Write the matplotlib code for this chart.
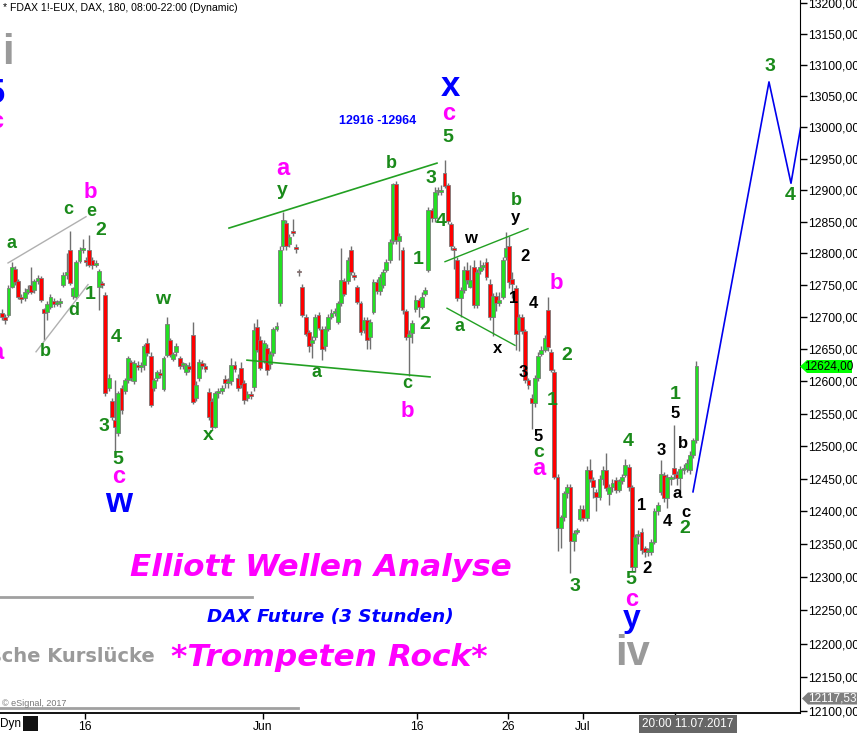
import matplotlib
matplotlib.use("Agg")
import matplotlib.pyplot as plt
from matplotlib.ticker import FixedLocator, NullLocator, FuncFormatter
from matplotlib.patches import Polygon, Rectangle
from matplotlib.lines import Line2D

plt.rcParams['font.family'] = ['Liberation Sans', 'DejaVu Sans']

BASE = 12000
# OHLC of 3-hour bars (offsets from BASE)
opens = [707,700,703,748,776,756,732,730,740,751,742,756,762,712,708,716,725,721,722,
         751,766,805,733,732,788,805,790,806,790,782,748,752,735,590,570,540,521,590,585,
         602,630,600,625,622,626,660,640,590,605,612,588,641,665,635,645,636,625,614,624,
         672,575,605,628,624,584,570,530,582,585,603,597,600,626,606,621,598,575,580,591,
         685,664,633,652,627,644,682,722,811,848,815,836,810,773,747,700,677,660,669,703,
         682,655,682,700,707,693,722,756,756,805,765,747,722,680,696,669,708,755,741,750,
         774,790,819,910,820,805,709,669,676,712,727,716,737,774,869,856,898,897,928,908,
         847,809,790,730,743,774,748,779,719,772,779,787,752,701,733,722,732,795,811,760,
         745,680,700,678,602,574,566,606,643,649,711,645,615,453,375,391,428,438,355,369,
         389,403,390,464,448,430,422,450,464,426,437,448,433,446,456,468,437,315,362,369,
         344,338,338,353,400,430,456,420,449,466,458,451,464,465,463,486,509]
highs = [712,705,750,786,780,760,737,745,750,778,760,766,765,714,725,736,730,727,730,
         770,800,836,748,790,810,822,795,829,795,790,775,756,740,612,575,602,585,595,606,
         640,634,634,632,630,658,668,645,606,618,620,640,700,668,645,660,640,630,628,630,
         693,600,635,634,628,590,575,585,590,595,610,605,636,632,612,630,602,585,585,691,
         697,670,665,658,648,685,692,812,865,853,830,854,815,776,752,705,680,670,705,708,
         686,686,705,712,715,726,809,762,795,812,770,750,726,700,700,697,760,760,768,776,
         792,822,912,915,832,810,712,680,695,735,730,740,748,873,872,905,905,908,948,912,
         850,812,795,748,780,786,782,790,776,790,786,793,760,738,740,740,795,834,828,770,
         750,705,705,682,606,580,610,645,655,672,731,650,620,458,395,432,442,442,372,375,
         410,410,470,480,452,435,455,470,490,442,450,452,450,458,480,472,440,365,372,375,
         348,345,358,405,415,478,460,458,455,532,462,470,472,480,492,512,632]
lows = [695,690,700,745,750,728,722,726,736,736,738,752,724,665,696,712,716,717,716,
        748,760,750,728,728,785,800,780,778,776,778,711,745,578,585,540,487,515,550,580,
        598,600,596,618,615,618,640,560,585,600,605,585,638,638,632,640,620,620,610,615,
        565,570,600,620,615,540,525,528,575,580,590,590,595,615,585,590,565,570,572,585,
        645,618,628,610,620,640,678,718,805,805,810,828,800,765,700,670,646,636,665,680,
        633,648,678,697,702,690,718,733,752,766,758,720,672,676,651,650,705,737,735,745,
        770,785,815,815,790,705,665,609,660,708,700,712,733,770,850,850,893,893,903,847,
        805,775,725,700,738,752,745,714,715,768,774,758,695,670,710,718,728,790,745,730,
        649,648,674,598,588,527,560,600,640,645,648,614,450,340,345,385,420,307,340,365,
        385,385,385,445,420,400,418,440,432,410,430,428,430,442,452,432,310,308,350,335,
        330,332,333,350,395,425,415,405,440,450,440,430,458,460,458,482,505]
closes = [700,695,745,778,755,732,728,740,744,740,756,762,727,706,720,732,720,723,725,
          766,770,753,745,787,805,808,786,782,781,784,772,750,582,605,545,530,582,556,602,
          636,605,629,622,626,655,644,563,602,614,610,636,690,641,643,655,624,626,625,620,
          568,595,630,624,620,545,530,582,585,590,597,600,626,620,590,594,571,580,578,680,
          649,621,660,618,643,682,686,805,852,811,826,832,807,770,703,674,655,664,700,683,
          651,682,700,707,708,722,758,737,790,771,763,724,677,696,664,693,755,741,763,771,
          787,818,910,821,827,711,669,674,691,727,716,732,743,869,856,897,900,901,907,851,
          811,806,730,743,774,758,758,719,771,779,780,763,700,733,722,727,790,809,755,752,
          674,700,678,602,594,566,606,640,649,667,653,618,453,375,391,428,438,355,367,371,
          403,390,464,450,437,422,450,464,436,437,443,433,446,453,471,437,315,361,365,341,
          338,340,353,400,410,458,420,453,450,458,451,465,466,474,486,509,624]

LAST_PRICE = 12624.00
LOW_MARK = 12117.53
price_ticks = list(range(12100, 13201, 50))
date_tick_pos = [25.70, 80.80, 128.48, 156.66, 179.88]
date_tick_labels = ['16', 'Jun', '16', '26', 'Jul']
cursor_pos = 208.36
cursor_label = '20:00 11.07.2017'

GREEN = '#1a8a1a'
PINK = '#ff00ff'
BLUE = '#0000ff'
GRAY = '#9a9a9a'
BLACK = '#000000'

# wave labels: (bar index, price, text, color, fontsize)
labels = [
    (1.86, 13119, 'i', GRAY, 30), (195.05, 12184, 'iv', GRAY, 30),
    (-1.86, 13054, '5', BLUE, 25), (138.70, 13065, 'x', BLUE, 25),
    (36.22, 12414, 'w', BLUE, 25), (195.05, 12237, 'y', BLUE, 23),
    (-1.6, 13009, 'c', PINK, 17), (27.24, 12897, 'b', PINK, 16), (-1.6, 12645, 'a', PINK, 17),
    (36.22, 12453, 'c', PINK, 17), (87.00, 12935, 'a', PINK, 17), (125.39, 12554, 'b', PINK, 16),
    (138.39, 13023, 'c', PINK, 17), (171.52, 12752, 'b', PINK, 16), (166.25, 12465, 'a', PINK, 17),
    (195.05, 12266, 'c', PINK, 17),
    (2.79, 12815, 'a', GREEN, 13), (20.43, 12869, 'c', GREEN, 13), (27.55, 12866, 'e', GREEN, 13),
    (30.65, 12836, '2', GREEN, 14), (27.24, 12735, '1', GREEN, 14), (22.29, 12711, 'd', GREEN, 13),
    (13.31, 12646, 'b', GREEN, 13), (35.29, 12669, '4', GREEN, 14), (31.58, 12530, '3', GREEN, 14),
    (35.91, 12479, '5', GREEN, 14), (49.85, 12727, 'w', GREEN, 14), (63.78, 12517, 'x', GREEN, 14),
    (86.69, 12900, 'y', GREEN, 14), (120.43, 12943, 'b', GREEN, 13), (97.52, 12614, 'a', GREEN, 13),
    (125.39, 12596, 'c', GREEN, 13), (128.79, 12791, '1', GREEN, 14), (130.96, 12688, '2', GREEN, 14),
    (132.82, 12918, '3', GREEN, 14), (135.91, 12850, '4', GREEN, 14), (138.08, 12984, '5', GREEN, 14),
    (159.13, 12884, 'b', GREEN, 13), (141.49, 12686, 'a', GREEN, 13), (174.92, 12641, '2', GREEN, 14),
    (170.28, 12570, '1', GREEN, 14), (166.25, 12490, 'c', GREEN, 14), (177.40, 12286, '3', GREEN, 14),
    (193.81, 12507, '4', GREEN, 14), (194.74, 12296, '5', GREEN, 14), (208.36, 12580, '1', GREEN, 14),
    (211.46, 12374, '2', GREEN, 14), (237.77, 13097, '3', GREEN, 14), (243.96, 12891, '4', GREEN, 14),
    (158.82, 12856, 'y', BLACK, 12), (144.89, 12824, 'w', BLACK, 12), (161.92, 12795, '2', BLACK, 12),
    (158.51, 12729, '1', BLACK, 12), (164.40, 12722, '4', BLACK, 12), (153.56, 12651, 'x', BLACK, 12),
    (161.30, 12614, '3', BLACK, 12), (165.94, 12515, '5', BLACK, 12), (198.14, 12409, '1', BLACK, 12),
    (199.69, 12314, '2', BLACK, 12), (204.02, 12494, '3', BLACK, 12), (205.88, 12384, '4', BLACK, 12),
    (208.36, 12550, '5', BLACK, 12), (210.84, 12504, 'b', BLACK, 12), (208.98, 12428, 'a', BLACK, 12),
    (211.76, 12399, 'c', BLACK, 12),
]

# helper lines: (x list, price list, color, width)
trend_lines = [
    ([1.86, 26.01], [12785, 12858], '#b0b0b0', 1.0),
    ([10.53, 26.63], [12646, 12751], '#b0b0b0', 1.0),
    ([70.28, 134.67], [12840, 12943], '#22a022', 1.2),
    ([75.85, 132.51], [12633, 12607], '#22a022', 1.2),
    ([137.15, 162.85], [12787, 12839], '#22a022', 1.0),
    ([137.77, 158.82], [12714, 12656], '#22a022', 1.0),
]
proj_x = [213.93, 237.46, 244.27, 247.5]
proj_p = [12430, 13073, 12911, 13007]

W, H = 857, 733
fig = plt.figure(figsize=(W / 100, H / 100), dpi=100)
ax = fig.add_axes([0, 20 / H, 800 / W, 713 / H])
ax.set_yscale('log')
ax.set_xlim(-0.62, 247.06)
ax.set_ylim(12096.3, 13205.4)

n = len(closes)
for i in range(n):
    o = BASE + opens[i]; c = BASE + closes[i]
    hi = BASE + highs[i]; lo = BASE + lows[i]
    ax.vlines(i, lo, hi, color='#707070', lw=1.0, zorder=2)
    bot = min(o, c); top = max(o, c)
    if top - bot < 3:
        top = bot + 3
    col = '#22e022' if c >= o else '#ff0000'
    ax.add_patch(Rectangle((i - 0.6, bot), 1.2, top - bot, facecolor=col,
                           edgecolor='#7a7a7a', lw=0.6, zorder=3))

for xs, ps, col, lw in trend_lines:
    ax.plot(xs, ps, color=col, lw=lw, zorder=4)
ax.plot(proj_x, proj_p, color='#0000ee', lw=1.2, zorder=4, clip_on=True)

for xi, pr, s, col, fs in labels:
    ax.text(xi, pr, s, color=col, fontsize=fs, fontweight='bold',
            ha='center', va='center', zorder=6)

ax.text(116.41, 13011, '12916 -12964', color=BLUE, fontsize=9, fontweight='bold',
        ha='center', va='center')

# axes styling
for side in ['left', 'top']:
    ax.spines[side].set_visible(False)
ax.spines['right'].set_color('black')
ax.spines['bottom'].set_color('black')
ax.spines['bottom'].set_linewidth(1.3)
ax.yaxis.tick_right()
ax.yaxis.set_major_locator(FixedLocator(price_ticks))
ax.yaxis.set_minor_locator(NullLocator())
ax.yaxis.set_major_formatter(FuncFormatter(lambda v, p: f"{v:.2f}".replace('.', ',')))
ax.tick_params(axis='y', which='major', direction='out', length=5, width=1, pad=1,
               labelsize=8.7, colors='black')
ax.tick_params(axis='y', which='minor', length=0)
ax.set_xticks(date_tick_pos + [cursor_pos])
ax.set_xticklabels(date_tick_labels + [''])
ax.tick_params(axis='x', direction='out', length=4, width=1, pad=2, labelsize=8.7)

def fx(px):
    return px / W

def fy(py):
    return 1 - py / H

CAP = ['DejaVu Sans']

# title
fig.text(fx(3), fy(8), '* FDAX 1!-EUX, DAX, 180, 08:00-22:00 (Dynamic)', fontsize=7.6,
         ha='left', va='center', color='black')

# big captions
fig.text(fx(321), fy(567), 'Elliott Wellen Analyse', color=PINK, fontsize=22.4, family=CAP,
         fontweight='bold', fontstyle='italic', ha='center', va='center')
fig.text(fx(330), fy(617), 'DAX Future (3 Stunden)', color=BLUE, fontsize=13.2, family=CAP,
         fontweight='bold', fontstyle='italic', ha='center', va='center')
fig.text(fx(329), fy(658), '*Trompeten Rock*', color=PINK, fontsize=22.5, family=CAP,
         fontweight='bold', fontstyle='italic', ha='center', va='center')
fig.text(fx(155), fy(657), 'Charttechnische Kurslücke', color='#9a9a9a', fontsize=14,
         family=CAP, fontweight='bold', ha='right', va='center')
fig.add_artist(Line2D([0, fx(252)], [fy(597), fy(597)], color='#a0a0a0', lw=2))
fig.add_artist(Line2D([0, fx(298)], [fy(708), fy(708)], color='#a0a0a0', lw=2))
fig.text(fx(2), fy(703), '© eSignal, 2017', color='#777777', fontsize=6.5,
         ha='left', va='center')

# bottom left
fig.text(fx(0), fy(724), 'Dyn', fontsize=8.5, ha='left', va='center', color='black')
fig.add_artist(Rectangle((fx(23), fy(731)), fx(15), 15 / H, facecolor='#111111',
                         edgecolor='none', transform=fig.transFigure))

# cursor date box
fig.text(fx(688), fy(724), cursor_label, fontsize=8.5, color='white', ha='center',
         va='center', bbox=dict(boxstyle='square,pad=0.25', facecolor='#666666',
                                edgecolor='none'))

# last price box
yp = 366.5
fig.add_artist(Polygon([(fx(800), fy(yp)), (fx(807), fy(yp - 6.5)), (fx(852), fy(yp - 6.5)),
                        (fx(852), fy(yp + 6.5)), (fx(807), fy(yp + 6.5))], closed=True,
                       facecolor='#00ff00', edgecolor='none', transform=fig.transFigure))
fig.text(fx(829), fy(yp), f"{LAST_PRICE:.2f}".replace('.', ','), fontsize=8.5,
         ha='center', va='center', color='black')
yl = 698.5
fig.add_artist(Polygon([(fx(802), fy(yl)), (fx(808), fy(yl - 6)), (fx(857), fy(yl - 6)),
                        (fx(857), fy(yl + 6)), (fx(808), fy(yl + 6))], closed=True,
                       facecolor='#7f7f7f', edgecolor='none', transform=fig.transFigure))
fig.text(fx(832), fy(yl), f"{LOW_MARK:.2f}".replace('.', ','), fontsize=8.5,
         ha='center', va='center', color='white')

fig.savefig('out.png', dpi=100)
